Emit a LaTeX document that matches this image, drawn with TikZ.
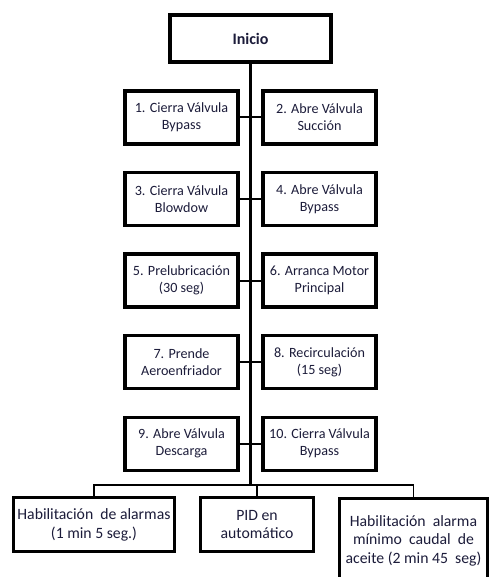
\documentclass[tikz,border=0pt]{standalone}
\usepackage{fontspec}
\setmainfont{Carlito}
\usetikzlibrary{positioning, calc, shadows}
\definecolor{texto}{HTML}{1C1C3A}

\begin{document}
\begin{tikzpicture}[
    % cajas de los pasos de arranque
    paso/.style={rectangle, draw=black, line width=2.4pt, fill=white,
                 minimum width=84.75pt, minimum height=39.75pt, inner sep=1pt,
                 outer sep=0pt, align=center, text=texto,
                 font=\fontsize{10.6}{12.8}\selectfont,
                 drop shadow={shadow xshift=1pt, shadow yshift=-1pt, opacity=0.3}},
    % caja de inicio
    inicio/.style={paso, minimum width=120.75pt, minimum height=35.25pt,
                   font=\fontsize{12}{14}\selectfont\bfseries},
    % cajas finales
    final/.style={paso, line width=2.2pt, font=\fontsize{11.8}{14}\selectfont},
    linea/.style={line width=1.5pt, black},
    tronco/.style={line width=2pt, black},
    bus/.style={line width=1.3pt, black}
]
\useasboundingbox (0,0) rectangle (367.5pt,-432.75pt);

%-------- INICIO --------
\node[inicio] (inicio) at (187.875pt,-28.875pt) {Inicio};

%-------- PASOS --------
\node[paso, below=21.75pt of inicio, xshift=-51.75pt] (p1) {1. Cierra Válvula\\Bypass};
\node[paso, right=18.75pt of p1] (p2) {2. Abre Válvula\\Succión};
\node[paso, below=21.4pt of p1] (p3) {3. Cierra Válvula\\Blowdow};
\node[paso, right=18.75pt of p3] (p4) {4. Abre Válvula\\Bypass};
\node[paso, below=21.4pt of p3] (p5) {5. Prelubricación\\(30 seg)};
\node[paso, right=18.75pt of p5] (p6) {6. Arranca Motor\\Principal};
\node[paso, below=21.4pt of p5] (p7) {7. Prende\\Aeroenfriador};
\node[paso, right=18.75pt of p7] (p8) {8. Recirculación\\(15 seg)};
\node[paso, below=21.4pt of p7] (p9) {9. Abre Válvula\\Descarga};
\node[paso, right=18.75pt of p9] (p10) {10. Cierra Válvula\\Bypass};

%-------- FINALES --------
\coordinate (bus) at ($(inicio.south |- p9.south)+(0,-11.25pt)$);
\node[final, below=9.4pt of bus, xshift=-117.4pt, minimum width=120.75pt,
      minimum height=40.5pt] (alarmas) {Habilitación~ de alarmas\\(1 min 5 seg.)};
\node[final, below=9.4pt of bus, xshift=4.9pt, minimum width=84.75pt,
      minimum height=40.5pt] (pid) {PID en\\automático};
\node[final, below=10.1pt of bus, xshift=122.25pt, minimum width=111pt,
      minimum height=63pt] (minimo) {Habilitación~ alarma\\mínimo~ caudal~ de\\aceite (2 min 45~ seg)};

%-------- CONEXIONES --------
\draw[tronco] (inicio.south) -- (bus);
\foreach \a/\b in {p1/p2, p3/p4, p5/p6, p7/p8, p9/p10}
    \draw[linea] (\a.east) -- (\b.west);
\draw[bus] (alarmas.north) |- (minimo.north |- bus) -- (minimo.north);
\draw[bus] (pid.north) -- (pid.north |- bus);

\end{tikzpicture}
\end{document}
